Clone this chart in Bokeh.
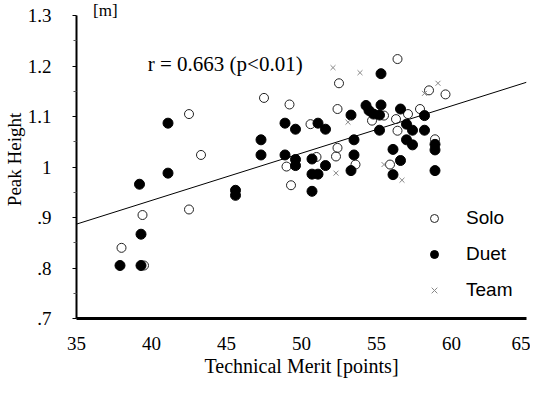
from bokeh.plotting import figure
from bokeh.models import FixedTicker, Legend, LegendItem, Range1d
from bokeh.core.properties import value
from bokeh.embed import file_html
from bokeh.resources import INLINE

# ---- data ----
solo_x = [38.0, 39.4, 39.5, 42.5, 42.5, 43.3, 47.5, 49.2, 49.0, 49.3, 50.6, 52.5,
          52.4, 52.4, 52.3, 53.6, 54.7, 55.5, 56.4, 56.4, 56.3, 57.1, 55.9, 57.9,
          58.5, 59.6, 58.9, 51.0]
solo_y = [0.840, 0.905, 0.805, 1.105, 0.916, 1.024, 1.137, 1.124, 1.001, 0.964, 1.085, 1.166,
          1.115, 1.038, 1.021, 1.005, 1.092, 1.102, 1.214, 1.072, 1.095, 1.105, 1.005, 1.115,
          1.152, 1.144, 1.055, 1.020]

duet_x = [37.9, 39.3, 39.3, 39.2, 41.1, 41.1, 45.6, 45.6, 47.3, 47.3, 48.9, 48.9,
          49.6, 49.6, 49.6, 50.7, 50.7, 50.7, 51.1, 51.1, 51.6, 51.6, 53.3, 53.5,
          53.5, 53.3, 54.3, 54.5, 54.8, 55.2, 55.3, 55.3, 55.2, 56.6, 56.1, 56.1,
          56.6, 57.0, 57.0, 57.4, 57.4, 58.2, 58.2, 58.9, 58.9, 58.9]
duet_y = [0.805, 0.805, 0.867, 0.966, 0.988, 1.087, 0.954, 0.944, 1.054, 1.024, 1.087, 1.024,
          1.075, 1.015, 1.003, 1.016, 0.952, 0.986, 0.986, 1.087, 1.075, 1.003, 1.103, 1.054,
          1.024, 0.993, 1.122, 1.112, 1.105, 1.103, 1.123, 1.185, 1.073, 1.115, 1.035, 0.985,
          1.013, 1.085, 1.054, 1.073, 1.044, 1.102, 1.073, 1.045, 1.034, 0.993]

team_x = [52.1, 53.9, 52.3, 55.5, 56.7, 59.1, 58.2, 53.1]
team_y = [1.197, 1.187, 0.988, 1.005, 0.974, 1.166, 1.146, 1.089]

fit_x = [35, 65]
fit_y = [0.887, 1.168]

x_ticks = [35, 40, 45, 50, 55, 60, 65]
y_ticks = [0.7, 0.8, 0.9, 1.0, 1.1, 1.2, 1.3]
y_tick_labels = [".7", ".8", ".9", "1", "1.1", "1.2", "1.3"]
y_minor = [0.75, 0.85, 0.95, 1.05, 1.15, 1.25]

annot_x = [39.75]
annot_y = [1.204]
annot_text = ["r = 0.663 (p<0.01)"]

unit_x = [36.1]
unit_y = [1.310]
unit_text = ["[m]"]

SERIF = "Liberation Serif"
SANS = "Liberation Sans"

p = figure(frame_width=450, height=379, x_range=Range1d(35, 65),
           y_range=Range1d(0.7, 1.33),
           output_backend="svg", toolbar_location=None,
           min_border_left=73, min_border_right=4, min_border_top=0, min_border_bottom=60)
p.outline_line_color = None
p.xgrid.visible = False
p.ygrid.visible = False
p.background_fill_color = "white"

# x axis
xa = p.xaxis[0]
xa.ticker = FixedTicker(ticks=x_ticks)
xa.axis_line_width = 3
xa.axis_line_color = "black"
xa.major_tick_out = 0
xa.major_tick_in = 0
xa.minor_tick_out = 0
xa.minor_tick_in = 0
xa.major_label_text_font = SERIF
xa.major_label_text_font_size = "19px"
xa.major_label_text_color = "black"
xa.major_label_standoff = 18
xa.axis_label = "Technical Merit [points]"
xa.axis_label_text_font = SERIF
xa.axis_label_text_font_style = "normal"
xa.axis_label_text_font_size = "20px"
xa.axis_label_text_color = "black"
xa.axis_label_standoff = 2

# y axis
ya = p.yaxis[0]
ya.ticker = FixedTicker(ticks=y_ticks, minor_ticks=y_minor)
ya.bounds = (0.7, 1.3)
ya.major_label_overrides = {t: l for t, l in zip(y_ticks, y_tick_labels)}
ya.axis_line_width = 2
ya.axis_line_color = "black"
ya.major_tick_line_color = "black"
ya.minor_tick_line_color = "#555555"
ya.major_tick_out = 4
ya.major_tick_in = 0
ya.minor_tick_out = 3
ya.minor_tick_in = 0
ya.major_label_text_font = SERIF
ya.major_label_text_font_size = "19px"
ya.major_label_text_color = "black"
ya.major_label_standoff = 21
ya.axis_label = "Peak Height"
ya.axis_label_text_font = SERIF
ya.axis_label_text_font_style = "normal"
ya.axis_label_text_font_size = "19px"
ya.axis_label_text_color = "black"
ya.axis_label_standoff = 0

# regression line
p.line(fit_x, fit_y, line_color="black", line_width=1)

r_solo = p.scatter(solo_x, solo_y, marker="circle", size=9, fill_color=None,
                   line_color="#222222", line_width=1)
r_duet = p.scatter(duet_x, duet_y, marker="circle", size=10, fill_color="black",
                   line_color="black")
r_team = p.scatter(team_x, team_y, marker="x", size=7, line_color="#888888", line_width=1)

p.text(annot_x, annot_y, text=annot_text, text_font=value(SERIF), text_font_size="21px",
       text_baseline="middle", text_align="left", text_color="black")
p.text(unit_x, unit_y, text=unit_text, text_font=value(SERIF), text_font_size="17px",
       text_baseline="middle", text_align="left", text_color="black")

legend = Legend(items=[LegendItem(label="Solo", renderers=[r_solo]),
                       LegendItem(label="Duet", renderers=[r_duet]),
                       LegendItem(label="Team", renderers=[r_team])],
                location=(348, 17))
legend.background_fill_alpha = 0
legend.border_line_color = None
legend.padding = 0
legend.margin = 0
legend.glyph_width = 20
legend.glyph_height = 20
legend.label_height = 20
legend.spacing = 14
legend.label_standoff = 22
legend.label_text_font = SANS
legend.label_text_font_size = "19px"
legend.label_text_color = "black"
p.add_layout(legend, "center")

open("out.html", "w").write(file_html(p, INLINE))
